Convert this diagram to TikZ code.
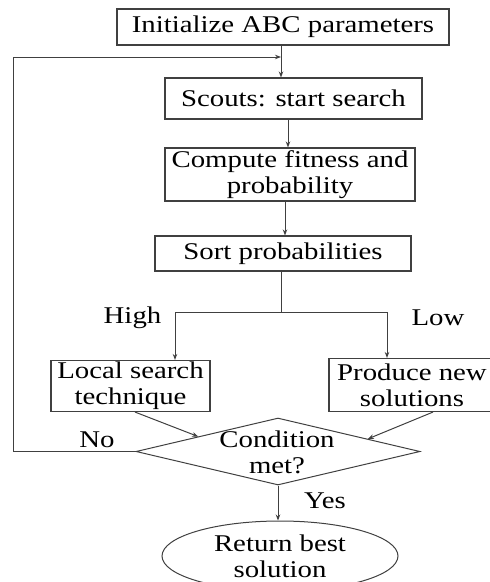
\documentclass[tikz,border=0pt]{standalone}
\usepackage{fontspec}
\setmainfont{Liberation Serif}[FakeStretch=1.2]
\usetikzlibrary{arrows.meta,shapes.geometric,calc}
\definecolor{linegray}{HTML}{404040}
\begin{document}
\begin{tikzpicture}[x=1pt,y=-1pt,
  every node/.style={font=\fontsize{24}{26}\selectfont, text=black},
  box/.style={draw=linegray, line width=1.1pt, inner sep=0pt, align=center},
  flow/.style={draw=linegray, line width=1pt, -{Stealth[length=6pt,width=4.5pt]}},
  wire/.style={draw=linegray, line width=1pt}]
\useasboundingbox (0,0) rectangle (490,582);
\clip (0,0) rectangle (490,582);

% process boxes
\node[box, minimum width=332pt, minimum height=36pt] (init) at (283,27) {Initialize ABC parameters};
\node[box, minimum width=257pt, minimum height=41pt] (scouts) at (293.5,98.5) {Scouts: start search};
\node[box, minimum width=250pt, minimum height=53pt] (fit) at (290,174.5) {Compute fitness and\\probability};
\node[box, minimum width=256pt, minimum height=35pt] (sort) at (283,253.5) {Sort probabilities};
\node[box, minimum width=159pt, minimum height=51pt] (local) at (130.5,386) {Local search\\technique};
\node[box, minimum width=166pt, minimum height=53pt] (prod) at (412,385) {Produce new\\solutions};

% decision and terminal
\node[draw=linegray, line width=1pt, diamond, inner sep=0pt,
      minimum width=284pt, minimum height=67pt] (cond) at (278,451.5) {};
\node[align=center, inner sep=0pt] (condtext) at (277,452) {Condition\\met?};
\node[draw=linegray, line width=1pt, ellipse, inner sep=0pt, align=center,
      minimum width=236pt, minimum height=70pt] (ret) at (280,556) {Return best\\solution};

% helper positions
\coordinate (xa) at (281,0);
\coordinate (xb) at (288,0);
\coordinate (xc) at (285,0);
\coordinate (lx) at (135,0);
\coordinate (px) at (433,0);
\coordinate (fork) at (281,312);
\coordinate (hl) at (175,0);
\coordinate (hr) at (387,0);
\coordinate (back) at (13,57);

% main flow
\draw[flow] (init.south -| xa) -- (scouts.north -| xa);
\draw[flow] (scouts.south -| xb) -- (fit.north -| xb);
\draw[flow] (fit.south -| xc) -- (sort.north -| xc);
\draw[wire] (sort.south -| fork) -- (fork);
\draw[flow] (fork) -| (local.north -| hl);
\draw[flow] (fork) -| (prod.north -| hr);
\draw[flow] (local.south -| lx) -- ($(cond.west)!0.44!(cond.north)$);
\draw[flow] (prod.south -| px) -- ($(cond.east)!0.37!(cond.north)$);
\draw[flow] (cond.south) -- (cond.south |- ret.north);

% loop back
\draw[flow] (cond.west) -| (back) -- (back -| xa);

% branch labels
\node (high) at (132.5,318) {High};
\node (low) at (438,318) {Low};
\node (no) at (97,440) {No};
\node (yes) at (325,501) {Yes};
\end{tikzpicture}
\end{document}
